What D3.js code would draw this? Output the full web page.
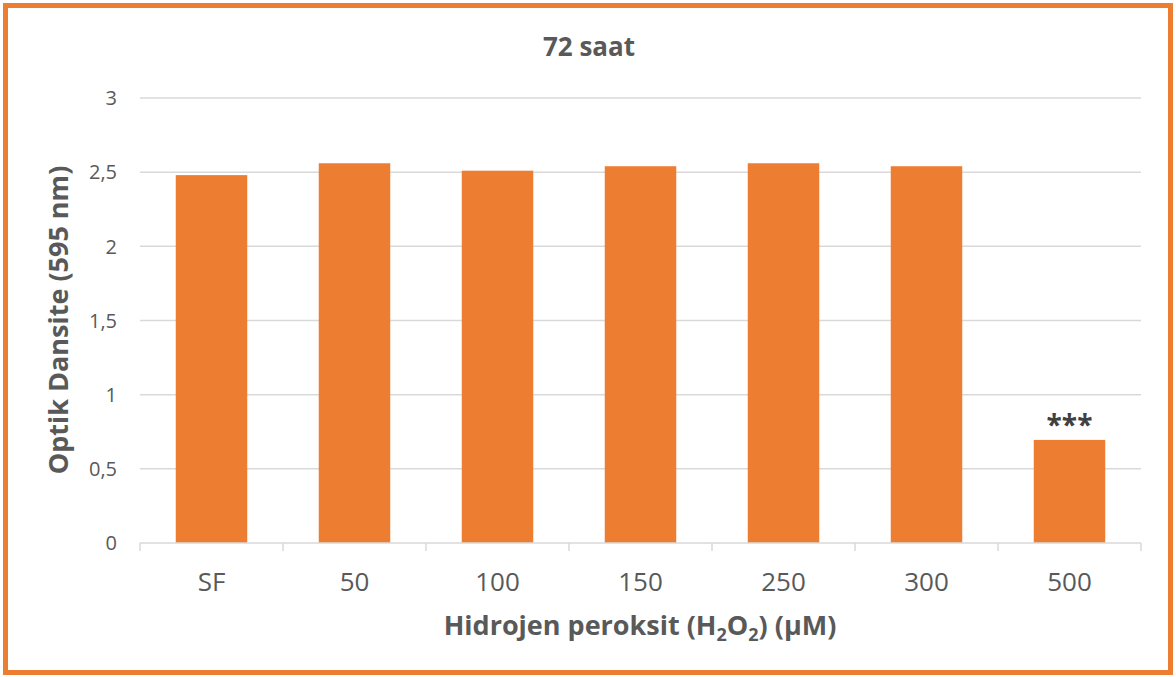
<!DOCTYPE html>
<html><head><meta charset="utf-8">
<script src="https://cdn.jsdelivr.net/npm/d3@7"></script>
<style>
html,body{margin:0;padding:0;background:#fff;}
svg text{font-family:"Open Sans","Lato",sans-serif;}
</style></head>
<body>
<svg id="chart" width="1176" height="677"></svg>
<script>
const categories = ["SF","50","100","150","250","300","500"];
const values = [2.48, 2.56, 2.51, 2.54, 2.56, 2.54, 0.695];
const yTicks = [0, 0.5, 1, 1.5, 2, 2.5, 3];
const yTickLabels = ["0","0,5","1","1,5","2","2,5","3"];
const annotations = ["","","","","","","***"];
const title = "72 saat";
const yTitle = "Optik Dansite (595 nm)";

const svg = d3.select("#chart");
const W = 1176, H = 677;
const m = {left:140, right:35, top:98, bottom:134};

svg.append("rect").attr("x",5.5).attr("y",5.5).attr("width",W-11).attr("height",H-10)
  .attr("fill","#fff").attr("stroke","#ED7D31").attr("stroke-width",5);

const x = d3.scaleBand().domain(categories).range([m.left, W-m.right]).paddingInner(0.5).paddingOuter(0.25);
const y = d3.scaleLinear().domain([0,3]).range([H-m.bottom, m.top]);

// gridlines
svg.append("g").selectAll("line").data(yTicks.filter(d=>d>0)).join("line")
  .attr("x1",m.left).attr("x2",W-m.right)
  .attr("y1",d=>y(d)).attr("y2",d=>y(d))
  .attr("stroke","#d9d9d9").attr("stroke-width",1.5);

// y labels
svg.append("g").selectAll("text").data(yTicks).join("text")
  .attr("x",117).attr("y",d=>y(d)).attr("dy","0.36em")
  .attr("text-anchor","end").attr("font-size",20).attr("fill","#595959")
  .text((d,i)=>yTickLabels[i]);

// bars
svg.append("g").selectAll("rect").data(values).join("rect")
  .attr("x",(d,i)=>x(categories[i])).attr("width",x.bandwidth())
  .attr("y",d=>y(d)).attr("height",d=>y(0)-y(d))
  .attr("fill","#ED7D31");

// annotations
svg.append("g").selectAll("text").data(values).join("text")
  .attr("x",(d,i)=>x(categories[i])+x.bandwidth()/2).attr("y",d=>y(d)-5)
  .attr("text-anchor","middle").attr("font-size",28).attr("font-weight","bold").attr("fill","#404040")
  .text((d,i)=>annotations[i]);

// x axis line and ticks
const xa = svg.append("g");
xa.append("line").attr("x1",m.left).attr("x2",W-m.right).attr("y1",y(0)).attr("y2",y(0))
  .attr("stroke","#d9d9d9").attr("stroke-width",1.5);
const edges = d3.range(categories.length+1).map(i=>m.left + (W-m.right-m.left)*i/categories.length);
xa.selectAll("line.t").data(edges).join("line").attr("class","t")
  .attr("x1",d=>d).attr("x2",d=>d).attr("y1",y(0)).attr("y2",y(0)+8)
  .attr("stroke","#d9d9d9").attr("stroke-width",1.5);
xa.selectAll("text").data(categories).join("text")
  .attr("x",d=>x(d)+x.bandwidth()/2).attr("y",591)
  .attr("text-anchor","middle").attr("font-size",26).attr("fill","#595959").text(d=>d);

// title
svg.append("text").attr("x",589).attr("y",56).attr("text-anchor","middle")
  .attr("font-size",26).attr("font-weight","bold").attr("fill","#595959").text(title);

// x title with subscripts
const xt = svg.append("text").attr("x",640).attr("y",635).attr("text-anchor","middle")
  .attr("font-size",27).attr("font-weight","bold").attr("fill","#595959");
xt.append("tspan").text("Hidrojen peroksit (H");
xt.append("tspan").attr("font-size",18).attr("dy",6).text("2");
xt.append("tspan").attr("dy",-6).text("O");
xt.append("tspan").attr("font-size",18).attr("dy",6).text("2");
xt.append("tspan").attr("dy",-6).text(") (µM)");

// y title
svg.append("text").attr("transform","translate(68,320) rotate(-90)").attr("text-anchor","middle")
  .attr("font-size",27).attr("font-weight","bold").attr("fill","#595959").text(yTitle);
</script>
</body></html>
